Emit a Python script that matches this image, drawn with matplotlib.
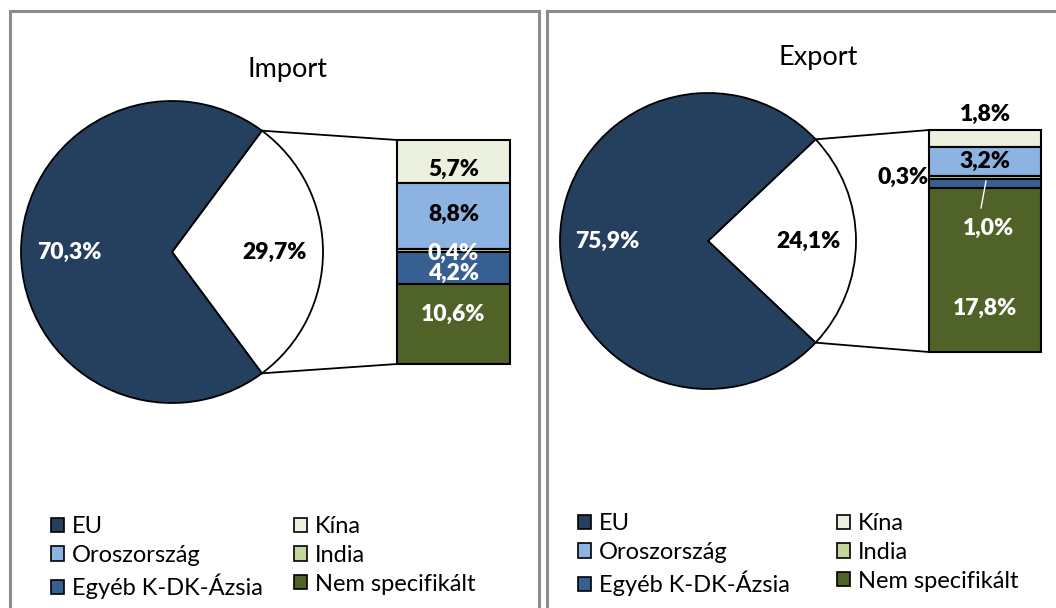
import numpy as np
import matplotlib
matplotlib.use("Agg")
import matplotlib.pyplot as plt
from matplotlib.patches import Patch, Rectangle
from matplotlib.legend import Legend

plt.rcParams["font.family"] = ["Lato", "DejaVu Sans"]

# ── Data ─────────────────────────────────────────────────────────────────────
PIE_LABELS = ["Többi", "EU"]
IMPORT_PIE = [29.7, 70.3]
EXPORT_PIE = [24.1, 75.9]

BAR_CATS   = ["Kína", "Oroszország", "India", "Egyéb K-DK-Ázsia", "Nem specifikált"]
IMPORT_BAR = [5.7, 8.8, 0.4, 4.2, 10.6]
EXPORT_BAR = [1.8, 3.2, 0.3, 1.0, 17.8]

LEGEND_COL1 = ["EU", "Oroszország", "Egyéb K-DK-Ázsia"]
LEGEND_COL2 = ["Kína", "India", "Nem specifikált"]

COLORS = {
    "EU": "#253F5F",
    "Többi": "#FFFFFF",
    "Kína": "#EBF1DE",
    "Oroszország": "#8DB3E2",
    "India": "#C3D69B",
    "Egyéb K-DK-Ázsia": "#366092",
    "Nem specifikált": "#4F6228",
}
TEXT_COL = {"EU": "white", "Többi": "black", "Kína": "black", "Oroszország": "black",
            "India": "white", "Egyéb K-DK-Ázsia": "white", "Nem specifikált": "white"}

W, H = 1056, 608
LBL_SIZE = 16.5
LBL_WEIGHT = 800


def fmt(v):
    return f"{v:.1f}%".replace(".", ",")


def Y(ypix):
    return H - ypix


fig = plt.figure(figsize=(W / 100, H / 100), dpi=100)
ax = fig.add_axes([0, 0, 1, 1])

# ── Panel layout (pixel units) ──────────────────────────────────────────────
panels = [
    dict(title="Import", title_xy=(288, 69), pie=IMPORT_PIE, center=(172, 252), radius=151,
         bar=IMPORT_BAR, bar_x=(397, 510), bar_bottom=364, bar_h=224,
         # label offsets (dx, dy) in px relative to segment centres
         offs=[(0, 8), (0, -2), (0, 3), (0, 5), (0, -10)],
         legend_cols=(51, 294), legend_top=516),
    dict(title="Export", title_xy=(818, 57), pie=EXPORT_PIE, center=(708, 241), radius=148,
         bar=EXPORT_BAR, bar_x=(929, 1041), bar_bottom=352, bar_h=222,
         offs=[(0, -24), (0, 0), (-82, 0), (3, 45), (0, 38)],
         legend_cols=(578, 837), legend_top=513),
]

for p in panels:
    cx, cy = p["center"]
    r = p["radius"]
    other = p["pie"][0]
    half = other / 100 * 360 / 2
    wedges, _, autotexts = ax.pie(
        p["pie"], colors=[COLORS[k] for k in PIE_LABELS], startangle=-half,
        center=(cx, Y(cy)), radius=r, autopct=fmt, pctdistance=0.68,
        wedgeprops=dict(edgecolor="black", linewidth=1.3),
        textprops=dict(fontsize=LBL_SIZE, fontweight=LBL_WEIGHT))
    for t, k in zip(autotexts, PIE_LABELS):
        t.set_color(TEXT_COL[k])

    ax.text(p["title_xy"][0], Y(p["title_xy"][1]), p["title"], fontsize=19.5,
            ha="center", va="center")

    # stacked bar, top to bottom in BAR_CATS order
    x0, x1 = p["bar_x"]
    vals = np.array(p["bar"])
    scale = p["bar_h"] / vals.sum()
    heights = vals * scale
    bottoms = Y(p["bar_bottom"]) + np.concatenate([np.cumsum(heights[::-1])[::-1][1:], [0]])
    ax.bar([(x0 + x1) / 2] * len(vals), heights, bottom=bottoms, width=x1 - x0,
           color=[COLORS[c] for c in BAR_CATS], edgecolor="black", linewidth=1.5, zorder=3)
    for c, v, b, hgt, (dx, dy) in zip(BAR_CATS, vals, bottoms, heights, p["offs"]):
        col = TEXT_COL[c]
        if c == "India" and dx != 0:
            col = "black"
        ax.text((x0 + x1) / 2 + dx, b + hgt / 2 - dy, fmt(v), color=col, fontsize=LBL_SIZE,
                fontweight=LBL_WEIGHT, ha="center", va="center", zorder=5)

    # connector lines from wedge edges to bar corners
    a = np.radians(half)
    top_y = Y(p["bar_bottom"]) + p["bar_h"]
    ax.plot([cx + r * np.cos(a), x0], [Y(cy) + r * np.sin(a), top_y], color="black", lw=1.3)
    ax.plot([cx + r * np.cos(a), x0], [Y(cy) - r * np.sin(a), Y(p["bar_bottom"])],
            color="black", lw=1.3)

    # legend: two single-column legends
    for names, lx in zip([LEGEND_COL1, LEGEND_COL2], p["legend_cols"]):
        handles = [Patch(facecolor=COLORS[k], edgecolor="black", linewidth=1.2) for k in names]
        leg = Legend(ax, handles, names, loc="upper left", frameon=False,
                     bbox_to_anchor=(lx / W, 1 - p["legend_top"] / H),
                     bbox_transform=fig.transFigure, fontsize=17, handlelength=0.55,
                     handleheight=0.55, handletextpad=0.35, labelspacing=0.33,
                     borderpad=0, borderaxespad=0)
        ax.add_artist(leg)

# leader line for the export 1,0% label
ax.plot([981, 986], [Y(208), Y(181)], color="white", lw=1.0, zorder=6)

# panel borders
for x0, x1 in [(9.5, 538.5), (546.5, 1070)]:
    ax.add_patch(Rectangle((x0, -10), x1 - x0, Y(10.5) + 10, fill=False,
                           edgecolor="#8C8C8C", linewidth=2.2, zorder=0))

ax.set_xlim(0, W)
ax.set_ylim(0, H)
ax.set_aspect("equal")
ax.axis("off")

fig.savefig("out.png", dpi=100)
